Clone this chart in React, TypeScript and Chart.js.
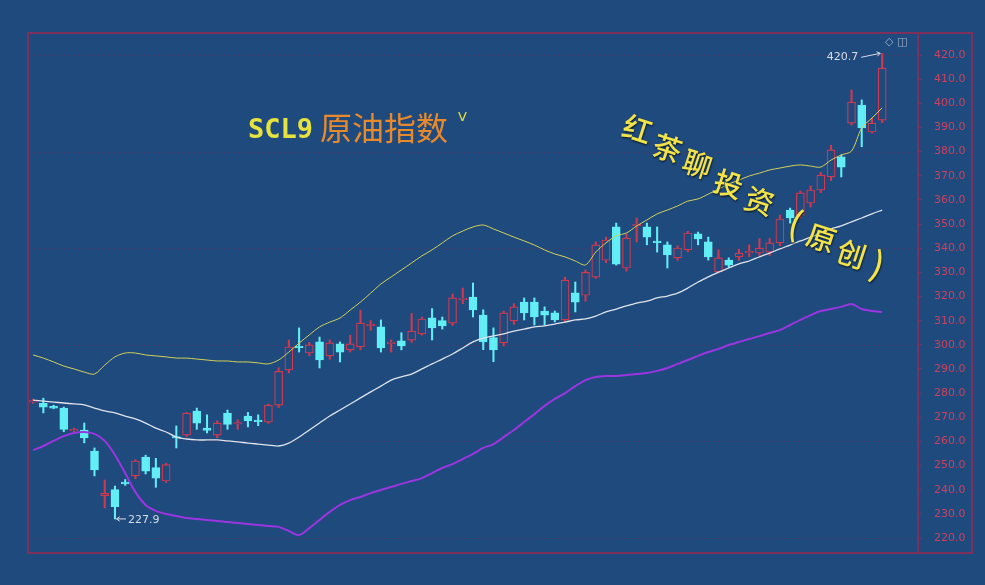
import React, { useEffect, useRef } from "react";
import { Chart, registerables } from "chart.js";
Chart.register(...registerables);

// ---- data ----
const opens = [
  276.2, 275.8, 274.5, 273.8, 264.4, 264.7, 256.0, 237.5, 240.0, 243.2,
  245.7, 253.5, 249.2, 243.6, 262.0, 262.6, 272.6, 265.5, 262.6, 271.7,
  267.2, 270.5, 268.8, 268.0, 275.0, 289.6, 299.4, 296.6, 301.2, 295.4,
  300.4, 297.9, 299.1, 307.9, 307.4, 300.5, 301.6, 301.9, 304.5, 311.2,
  310.0, 309.0, 318.7, 319.8, 312.3, 303.0, 300.8, 309.9, 317.7, 317.7,
  314.0, 313.2, 310.3, 321.5, 320.5, 328.0, 335.0, 348.8, 331.8, 349.3,
  348.8, 342.9, 341.4, 336.0, 339.3, 345.9, 342.6, 330.2, 335.1, 336.4,
  338.1, 338.0, 338.4, 342.2, 355.8, 353.7, 358.7, 364.1, 369.5, 377.8,
  391.8, 399.3, 388.1, 393.0,
];
const highs = [
  277.5, 277.9, 275.0, 274.2, 265.5, 267.6, 257.3, 244.0, 241.5, 244.2,
  252.5, 254.3, 253.0, 251.0, 266.4, 272.0, 273.8, 271.0, 268.5, 273.0,
  269.0, 272.0, 271.0, 275.5, 290.5, 302.0, 307.0, 301.0, 303.2, 302.0,
  301.2, 304.0, 314.4, 310.0, 310.3, 302.0, 305.0, 313.0, 311.5, 315.0,
  311.5, 321.0, 323.5, 325.6, 314.5, 307.0, 314.0, 317.0, 319.4, 319.4,
  315.7, 314.0, 328.0, 326.0, 331.0, 342.6, 344.6, 350.4, 346.0, 352.5,
  350.4, 348.8, 342.6, 341.0, 347.0, 346.7, 344.6, 339.3, 336.0, 339.5,
  341.4, 344.0, 344.0, 353.7, 356.6, 363.7, 365.8, 371.4, 382.6, 378.6,
  405.5, 401.4, 393.9, 420.7,
];
const lows = [
  275.8, 271.8, 273.5, 264.0, 264.0, 259.4, 245.7, 232.4, 227.9, 241.8,
  244.5, 246.5, 241.0, 243.0, 257.3, 262.0, 265.0, 263.5, 261.5, 265.0,
  265.0, 266.0, 266.5, 267.5, 274.0, 288.3, 297.0, 295.5, 290.4, 294.0,
  292.9, 297.0, 297.9, 306.0, 297.0, 297.0, 297.9, 301.0, 304.0, 302.0,
  306.5, 308.0, 317.0, 311.5, 298.0, 293.0, 299.5, 308.5, 310.3, 308.2,
  308.2, 309.5, 309.5, 313.6, 318.0, 327.5, 334.0, 333.0, 330.5, 342.6,
  341.4, 338.4, 331.8, 335.0, 338.5, 341.4, 335.1, 329.7, 332.0, 335.0,
  336.5, 337.0, 337.0, 341.0, 350.4, 352.5, 357.0, 363.0, 368.0, 369.5,
  391.0, 382.0, 387.7, 392.0,
];
const closes = [
  276.9, 274.2, 273.8, 265.0, 265.0, 261.4, 248.2, 238.5, 233.0, 242.4,
  251.9, 247.7, 244.8, 250.4, 261.4, 271.7, 267.6, 264.5, 267.6, 267.0,
  267.8, 268.5, 268.2, 275.0, 289.0, 299.1, 298.8, 300.0, 293.7, 300.8,
  297.0, 300.4, 309.0, 308.5, 298.7, 301.1, 299.5, 305.7, 310.7, 307.0,
  307.8, 319.4, 319.3, 314.4, 301.2, 297.9, 313.2, 315.7, 313.2, 311.5,
  312.3, 310.3, 326.8, 317.7, 330.0, 341.4, 343.4, 333.4, 344.2, 349.9,
  344.6, 342.3, 337.2, 340.1, 346.3, 343.8, 336.4, 336.0, 333.0, 338.0,
  338.7, 340.0, 342.2, 352.1, 352.5, 362.9, 364.1, 370.3, 380.7, 373.6,
  400.5, 389.8, 391.8, 414.6,
];
const upperBand = [
  295.8, 294.5, 292.9, 291.2, 290.0, 288.7, 287.9, 291.6, 295.0, 296.6,
  296.6, 295.8, 295.4, 295.0, 294.5, 294.5, 294.1, 293.7, 293.3, 293.3,
  292.9, 292.9, 292.5, 292.1, 293.7, 297.0, 300.7, 304.1, 307.4, 309.4,
  311.1, 314.4, 317.7, 321.4, 325.2, 328.1, 331.0, 333.9, 336.8, 339.3,
  342.2, 345.1, 347.1, 348.8, 349.6, 348.0, 346.3, 344.6, 343.0, 341.3,
  339.3, 337.6, 336.4, 334.7, 333.1, 338.4, 342.2, 345.1, 346.3, 349.2,
  351.7, 354.2, 355.8, 357.5, 359.5, 360.4, 362.4, 364.5, 366.6, 368.2,
  369.9, 371.1, 372.4, 373.2, 374.0, 374.5, 374.0, 373.6, 376.5, 378.6,
  380.2, 389.8, 393.9, 398.1,
];
const middleBand = [
  277.1, 276.7, 276.3, 275.9, 275.5, 275.1, 273.8, 272.6, 271.8, 270.5,
  269.3, 267.6, 265.5, 263.9, 261.8, 261.0, 260.6, 260.6, 260.6, 260.2,
  259.8, 259.3, 258.9, 258.5, 258.1, 259.3, 261.8, 264.7, 267.6, 270.5,
  273.0, 275.5, 278.0, 280.5, 282.9, 285.4, 286.7, 287.9, 290.0, 292.1,
  294.1, 296.2, 298.7, 301.2, 302.8, 303.7, 304.5, 305.7, 306.5, 307.4,
  307.8, 308.6, 309.4, 310.3, 310.7, 311.9, 313.6, 314.8, 316.1, 317.3,
  318.1, 319.4, 320.2, 321.4, 323.5, 326.0, 328.1, 330.1, 331.8, 333.5,
  334.7, 336.4, 338.0, 339.7, 341.3, 343.0, 344.6, 346.3, 348.0, 349.2,
  350.9, 352.5, 354.2, 355.8,
];
const lowerBand = [
  256.4, 258.1, 260.2, 262.2, 263.5, 263.9, 263.1, 260.2, 254.4, 246.9,
  239.0, 233.7, 231.2, 229.9, 229.1, 228.3, 227.9, 227.5, 227.0, 226.6,
  226.2, 225.8, 225.4, 225.0, 224.6, 222.9, 221.2, 224.1, 227.5, 230.8,
  233.7, 235.7, 237.0, 238.6, 239.9, 241.1, 242.4, 243.6, 244.8, 246.9,
  249.0, 250.6, 252.7, 254.8, 257.3, 258.9, 261.8, 264.7, 268.0, 271.3,
  274.7, 277.6, 280.0, 282.9, 285.4, 286.7, 287.1, 287.1, 287.5, 287.9,
  288.3, 289.2, 290.4, 292.1, 293.7, 295.4, 297.0, 298.3, 299.9, 301.2,
  302.4, 303.6, 304.9, 306.1, 308.2, 310.3, 312.3, 314.0, 314.8, 315.7,
  316.9, 314.8, 314.0, 313.6,
];
const yTicks = [
  220, 230, 240, 250, 260, 270, 280, 290, 300, 310, 320,
  330, 340, 350, 360, 370, 380, 390, 400, 410, 420,
];
const gridValues = [220, 260, 300, 340, 380, 420];
const categories = opens.map((_, i) => `D${i + 1}`);
const emptySlots = ["", "", ""];
const highLabel = "420.7";
const lowLabel = "227.9";
const titleCode = "SCL9";
const titleName = "原油指数";
const watermark = ["红", "茶", "聊", "投", "资", "(", "原", "创", ")"];

// ---- style ----
const BG = "#1f4a7e";
const RED = "#d2394f";
const CYAN = "#62eef4";
const YELLOW = "#d4d058";
const WHITE = "#dfe3ea";
const PURPLE = "#9b35e0";
const FRAME = "#7e2f5c";
const TICK = "#c9415f";
const GRID = "rgba(120,40,80,0.5)";
const Y_MIN = 213.79;
const Y_MAX = 429.11;

function arrow(ctx: CanvasRenderingContext2D, x1: number, y1: number, x2: number, y2: number) {
  ctx.beginPath();
  ctx.moveTo(x1, y1);
  ctx.lineTo(x2, y2);
  ctx.stroke();
  const ang = Math.atan2(y2 - y1, x2 - x1);
  ctx.beginPath();
  ctx.moveTo(x2, y2);
  ctx.lineTo(x2 - 4 * Math.cos(ang - 0.6), y2 - 4 * Math.sin(ang - 0.6));
  ctx.moveTo(x2, y2);
  ctx.lineTo(x2 - 4 * Math.cos(ang + 0.6), y2 - 4 * Math.sin(ang + 0.6));
  ctx.stroke();
}

const decor = {
  id: "decor",
  beforeDatasetsDraw(chart: any) {
    const { ctx, chartArea: a, scales } = chart;
    const y = scales.y;
    ctx.save();
    ctx.strokeStyle = GRID;
    ctx.lineWidth = 1;
    ctx.setLineDash([2, 3]);
    for (const v of gridValues) {
      const py = Math.round(y.getPixelForValue(v)) + 0.5;
      ctx.beginPath();
      ctx.moveTo(a.left, py);
      ctx.lineTo(a.right, py);
      ctx.stroke();
    }
    ctx.restore();
  },
  afterDraw(chart: any) {
    const { ctx, chartArea: a, scales } = chart;
    const x = scales.x;
    const y = scales.y;
    ctx.save();
    ctx.strokeStyle = FRAME;
    ctx.lineWidth = 2;
    const right = a.right + 54;
    ctx.beginPath();
    ctx.moveTo(a.left, a.top);
    ctx.lineTo(right, a.top);
    ctx.lineTo(right, a.bottom);
    ctx.lineTo(a.left, a.bottom);
    ctx.closePath();
    ctx.stroke();
    ctx.beginPath();
    ctx.moveTo(a.right, a.top);
    ctx.lineTo(a.right, a.bottom);
    ctx.stroke();

    ctx.strokeStyle = "#d6dce8";
    ctx.fillStyle = "#d6dce8";
    ctx.lineWidth = 1;
    ctx.font = "11px 'DejaVu Sans'";
    const last = opens.length - 1;
    const hx = x.getPixelForValue(last);
    const hy = y.getPixelForValue(highs[last]);
    arrow(ctx, hx - 21, hy + 4, hx - 2, hy);
    ctx.textAlign = "right";
    ctx.textBaseline = "middle";
    ctx.fillText(highLabel, hx - 24, hy + 4);

    let li = 0;
    lows.forEach((v, i) => { if (v < lows[li]) li = i; });
    const lx = x.getPixelForValue(li);
    const ly = y.getPixelForValue(lows[li]);
    arrow(ctx, lx + 11, ly, lx + 1.5, ly);
    ctx.textAlign = "left";
    ctx.fillText(lowLabel, lx + 13, ly + 1);
    ctx.restore();
  },
};

export default function App() {
  const ref = useRef<HTMLCanvasElement>(null);
  useEffect(() => {
    if (!ref.current) return;
    const up = opens.map((o, i) => closes[i] >= o);
    const chart = new Chart(ref.current, {
      data: {
        labels: [...categories, ...emptySlots],
        datasets: [
          { type: "line", label: "UP", data: upperBand, borderColor: YELLOW, borderWidth: 1, pointRadius: 0, tension: 0.3, order: 1 },
          { type: "line", label: "MID", data: middleBand, borderColor: WHITE, borderWidth: 1.3, pointRadius: 0, tension: 0.3, order: 1 },
          { type: "line", label: "DN", data: lowerBand, borderColor: PURPLE, borderWidth: 2, pointRadius: 0, tension: 0.3, order: 1 },
          {
            type: "bar",
            label: "body",
            data: opens.map((o, i) => [o, closes[i]]) as any,
            backgroundColor: up.map((u) => (u ? BG : CYAN)),
            borderColor: up.map((u) => (u ? RED : CYAN)),
            borderWidth: 1.2,
            borderSkipped: false,
            barThickness: 8,
            grouped: false,
            order: 2,
          } as any,
          {
            type: "bar",
            label: "wick",
            data: lows.map((l, i) => [l, highs[i]]) as any,
            backgroundColor: up.map((u) => (u ? RED : CYAN)),
            borderWidth: 0,
            barThickness: 1.4,
            grouped: false,
            order: 3,
          } as any,
        ],
      },
      options: {
        responsive: false,
        animation: false,
        layout: { padding: { left: 28, top: 33, right: 13, bottom: 32 } },
        plugins: { legend: { display: false }, tooltip: { enabled: false } },
        scales: {
          x: { type: "category", display: false, offset: true, grid: { display: false } },
          y: {
            position: "right",
            min: Y_MIN,
            max: Y_MAX,
            afterBuildTicks: (s: any) => {
              s.ticks = yTicks.map((v) => ({ value: v }));
            },
            afterFit: (s: any) => {
              s.width = 54;
            },
            ticks: {
              color: TICK,
              font: { size: 11, family: "'DejaVu Sans'" },
              padding: 12,
              callback: (v: any) => Number(v).toFixed(1),
            },
            grid: { drawOnChartArea: false, drawTicks: true, tickLength: 4, color: FRAME },
            border: { display: false },
          },
        },
      },
      plugins: [decor],
    } as any);
    return () => chart.destroy();
  }, []);

  const wmPos = [
    [638, 127], [668, 146], [698, 162], [729, 182], [760, 199],
    [796, 222], [822, 236], [852, 252], [878, 263],
  ];
  const fs = 30;
  return (
    <div style={{ position: "fixed", left: 0, top: 0, width: 985, height: 585, background: BG, overflow: "hidden" }}>
      <canvas ref={ref} width={985} height={585} style={{ position: "absolute", left: 0, top: 0 }} />
      <div style={{ position: "absolute", left: 248, top: 115, fontFamily: "'DejaVu Sans Mono'", fontWeight: 700, fontSize: 27, lineHeight: "27px", color: "#e6e23e", whiteSpace: "nowrap" }}>
        {titleCode}
      </div>
      <div style={{ position: "absolute", left: 320, top: 110, fontFamily: "'Noto Sans CJK SC'", fontSize: 32, lineHeight: "32px", color: "#e8892c", whiteSpace: "nowrap" }}>
        {titleName}
      </div>
      <div style={{ position: "absolute", left: 458, top: 110, fontFamily: "'DejaVu Sans'", fontSize: 13, lineHeight: "13px", color: "#e6e23e" }}>V</div>
      {watermark.map((ch, i) => (
        <span
          key={i}
          style={{
            position: "absolute",
            left: wmPos[i][0] - fs / 2,
            top: wmPos[i][1] - fs / 2,
            width: fs,
            height: fs,
            lineHeight: `${fs}px`,
            textAlign: "center",
            fontFamily: "'Noto Sans CJK SC'",
            fontWeight: 500,
            fontSize: ch === "(" || ch === ")" ? 34 : 29,
            color: "#f1e348",
            textShadow: "1px 1px 2px rgba(0,0,0,0.7)",
            transform: "rotate(18deg)",
          }}
        >
          {ch}
        </span>
      ))}
      <div style={{ position: "absolute", left: 885, top: 36, fontFamily: "'DejaVu Sans'", fontSize: 11, lineHeight: "12px", color: "#9fb0c8", whiteSpace: "nowrap" }}>
        ◇ ◫
      </div>
    </div>
  );
}
